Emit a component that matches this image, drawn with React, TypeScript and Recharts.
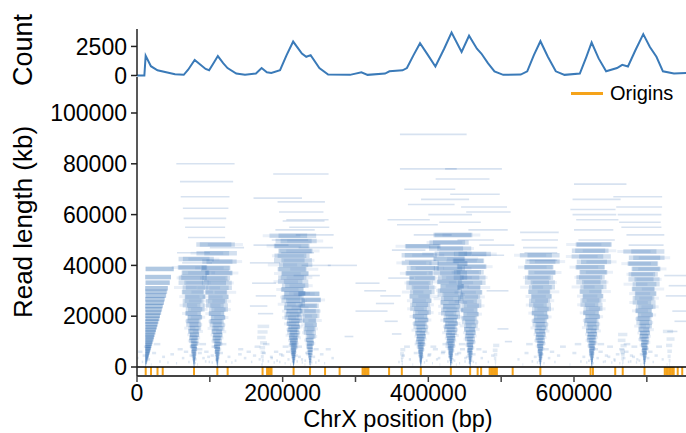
import React from 'react';
import { ComposedChart, Line, XAxis, YAxis, ReferenceLine } from 'recharts';

const FONT = '"Liberation Sans", Arial, Helvetica, sans-serif';
const BLUE = '#3a7ab8';
const READ = '#3570b6';
const ORANGE = '#f5a31a';

const X_MAX = 773000;
const xTicks = [0, 100000, 200000, 300000, 400000, 500000, 600000, 700000];
const countTicks = [0, 2500];
const lengthTicks = [0, 20000, 40000, 60000, 80000, 100000];

const countPos = [0, 10100, 11900, 19100, 28100, 40100, 52200, 64200, 70200, 79200, 94200, 99000, 105000, 111000, 118300, 124300, 136300, 148300, 163300, 171100, 178300, 184400, 196400, 205400, 214400, 226400, 232400, 238400, 250400, 262400, 292500, 308100, 316600, 340600, 346600, 364600, 370600, 379700, 388600, 399500, 409700, 421700, 431900, 445700, 455900, 466700, 472800, 481800, 490800, 502800, 526900, 535800, 544900, 553900, 564100, 575000, 587000, 608000, 617000, 624200, 633800, 644100, 659100, 666200, 674100, 684300, 695100, 704200, 713200, 722100, 737200, 754100, 773000];
const countVal = [0, 0, 1700, 800, 450, 280, 110, 60, 500, 1330, 560, 450, 1060, 1670, 1060, 640, 170, 55, 165, 640, 280, 220, 450, 1750, 2920, 1890, 1610, 1750, 640, 80, 55, 280, 55, 165, 360, 445, 640, 1750, 2780, 1750, 780, 2300, 3700, 2030, 3420, 2300, 1890, 1060, 360, 55, 80, 360, 1750, 2950, 1610, 360, 55, 165, 1610, 2840, 1470, 360, 640, 920, 780, 2170, 3560, 2450, 1610, 360, 165, 220, 220];

const origins = [11950, 19230, 28160, 35300, 78300, 110300, 124450, 172400, 178600, 180600, 182700, 184700, 215000, 237600, 258200, 278200, 309700, 311800, 313900, 315900, 317700, 346100, 363600, 389700, 430900, 457400, 467700, 472500, 484200, 486200, 488200, 490200, 492200, 494100, 515800, 553800, 622700, 626000, 656600, 666900, 696800, 724600, 726600, 728700, 730700, 732800, 734800, 736900, 742400, 748600];

// read clusters: origin position, where reads sit relative to origin, spread, depth layers
const clusterCenters = [11500, 78300, 110300, 172400, 215000, 237600, 389700, 430900, 457400, 553800, 624500, 696800, 666900, 364000, 492000, 731000];
const clusterAnchors = [0, 0.5, 0.5, 0.5, 0.5, 0.5, 0.5, 0.5, 0.5, 0.5, 0.5, 0.5, 0.5, 0.5, 0.5, 0.5];
const clusterSpreads = [0.12, 1, 1, 1, 1, 1, 1, 1, 1, 1, 1, 1, 1, 1, 1, 1];
const clusterLayers = [2, 3, 3, 1, 3, 3, 3, 3, 3, 3, 3, 3, 1, 1, 1, 1];
const clusterLengths = [
  [900, 1500, 2100, 2700, 3200, 3800, 4400, 5000, 5700, 6300, 7000, 7700, 8400, 9200, 10000, 10900, 11800, 12700, 13700, 14700, 15700, 16800, 17900, 19000, 20200, 21400, 22700, 24000, 25300, 26700, 28100, 29600, 31000, 33200, 35400, 38600],
  [700, 1300, 2000, 2700, 3500, 4300, 5200, 6100, 7100, 8100, 9200, 10300, 11500, 12700, 14000, 15300, 16700, 18100, 19600, 21100, 22700, 24300, 26000, 27700, 29500, 31300, 33200, 35100, 37100, 39200, 42500],
  [600, 1200, 1900, 2600, 3400, 4200, 5100, 6000, 7000, 8000, 9100, 10200, 11400, 12600, 13900, 15200, 16600, 18000, 19500, 21000, 22600, 24200, 25900, 27600, 29400, 31200, 33100, 35000, 37000, 39000, 41500, 44800, 48200],
  [1200, 2600, 4100, 5800, 7600, 9500, 11600, 13800, 16000],
  [500, 1100, 1700, 2300, 3000, 3700, 4400, 5200, 6000, 6800, 7700, 8600, 9500, 10500, 11500, 12500, 13600, 14700, 15800, 17000, 18200, 19400, 20700, 22000, 23300, 24700, 26100, 27500, 29000, 30500, 32000, 33600, 35200, 36800, 38500, 40200, 42000, 43800, 45700, 47600, 49600, 51700],
  [800, 1700, 2600, 3600, 4600, 5700, 6800, 8000, 9300, 10600, 12000, 13500, 15000, 16600, 18300, 20100, 22000, 24100, 26400, 28800],
  [600, 1300, 2000, 2700, 3500, 4300, 5100, 6000, 6900, 7900, 8900, 9900, 11000, 12100, 13300, 14500, 15800, 17100, 18500, 19900, 21400, 22900, 24500, 26100, 27800, 29500, 31300, 33100, 35000, 36900, 38900, 41000, 44000, 47500],
  [500, 1100, 1800, 2500, 3200, 4000, 4800, 5600, 6500, 7400, 8300, 9300, 10300, 11300, 12400, 13500, 14700, 15900, 17100, 18400, 19700, 21100, 22500, 23900, 25400, 26900, 28500, 30100, 31800, 33500, 35200, 37000, 38800, 40700, 42600, 44600, 46700, 49000, 52000],
  [700, 1400, 2200, 3000, 3800, 4700, 5600, 6600, 7600, 8700, 9800, 11000, 12200, 13500, 14800, 16200, 17700, 19200, 20800, 22400, 24100, 25800, 27600, 29400, 31300, 33200, 35200, 37300, 39500, 41800, 44500],
  [600, 1300, 2000, 2800, 3600, 4400, 5300, 6200, 7200, 8200, 9300, 10400, 11600, 12800, 14100, 15400, 16800, 18200, 19700, 21200, 22800, 24400, 26100, 27800, 29600, 31400, 33300, 35200, 37200, 39300, 41500, 44000],
  [600, 1300, 2000, 2800, 3600, 4500, 5400, 6300, 7300, 8300, 9400, 10500, 11700, 12900, 14200, 15500, 16900, 18300, 19800, 21300, 22900, 24500, 26200, 27900, 29700, 31500, 33400, 35300, 37300, 39300, 41400, 43500, 45800, 48200],
  [600, 1300, 2100, 2900, 3700, 4600, 5500, 6500, 7500, 8600, 9700, 10900, 12100, 13400, 14700, 16100, 17500, 19000, 20500, 22100, 23700, 25400, 27100, 28900, 30700, 32600, 34500, 36500, 38600, 40700, 43000, 45500],
  [800, 2000, 3300, 4800, 6500, 8400, 10500, 12800],
  [700, 1600, 2700, 3900, 5200, 6800],
  [900, 2100, 3400, 4900, 6600, 8500],
  [1000, 2500, 4200, 6200, 8500, 11000, 14000],
];
// where each read crosses its origin (fraction of its length): core reads and off-centre reads
const readAnchorPattern = [0.5, 0.4, 0.6, 0.46, 0.54, 0.36, 0.64, 0.5, 0.43, 0.57];
const wideAnchorPattern = [0.18, 0.82, 0.27, 0.73, 0.12, 0.88, 0.32, 0.68, 0.22, 0.78];

// short scattered reads near the base of the main clusters
const speckleClusters = [0, 1, 2, 3, 4, 5, 6, 7, 8, 9, 10, 11, 12];
const speckleOffsets = [-30000, -24000, -19000, -15000, -11000, -7000, -4000, -1500, 2000, 5000, 8000, 12000, 16000, 20000, 25000, 31000];
const speckleLengths = [2500, 5000, 1500, 7000, 3500, 6000, 2000, 4500, 8000, 3000, 1000, 5500, 9000, 2200, 4000, 1800];

// individual long reads
const sparseStarts = [54000, 59000, 60000, 63000, 64000, 70000, 100000, 55000, 62000, 88000, 60000, 66000, 92000,
  160000, 160000, 155000, 158000, 163000, 166000, 155000,
  187000, 193000, 195000, 200000, 209000, 218000, 190000, 222000, 198000, 226000, 215000, 185000, 205000,
  262000, 285000, 300000, 322000, 334000, 340000, 350000, 312000, 345000, 328000, 300000,
  361000, 361000, 423000, 410000, 367000, 430000, 372000, 445000, 344000, 357000, 455000, 400000, 380000, 470000, 350000, 415000, 440000, 460000, 390000, 368000, 452000,
  480000, 495000, 505000,
  526000, 528000, 530000, 535000, 532000,
  600000, 598000, 595000, 603000, 600000, 606000, 598000,
  654000, 658000, 660000, 665000, 672000, 675000, 662000,
  724000, 730000, 726000, 735000, 738000, 728000];
const sparseLengths = [80000, 73000, 67000, 62500, 58500, 51000, 47000, 45000, 41000, 38000, 36000, 55000, 34000,
  66500, 48000, 41000, 33000, 28000, 21000, 24000,
  76000, 65000, 61000, 57500, 55000, 52000, 54000, 47000, 45000, 40000, 36000, 50000, 58000,
  40000, 12000, 22000, 22000, 28000, 18000, 13000, 30000, 35000, 25000, 33000,
  91600, 78000, 78000, 74000, 70000, 68000, 64000, 63000, 58000, 56000, 54000, 60000, 52000, 48000, 46000, 57000, 50000, 44000, 66000, 42000, 61000,
  30000, 15000, 10000,
  53000, 50000, 47000, 42000, 45000,
  72000, 66000, 62000, 58000, 54000, 50000, 60000,
  67000, 63000, 60000, 55000, 52000, 48000, 57000,
  36000, 32000, 28000, 22000, 18000, 14000];

const countData = countPos.map((x, i) => ({ x, count: countVal[i] }));

type Kind = 'core' | 'wide' | 'light' | 'speck' | 'sparse';
type Seg = { x1: number; x2: number; y: number; kind: Kind };
const segs: Seg[] = [];
clusterCenters.forEach((c, ci) => {
  const layers = clusterLayers[ci];
  clusterLengths[ci].forEach((L, i) => {
    for (let k = 0; k < layers; k++) {
      const wide = k === 2;
      const pat = wide ? wideAnchorPattern : readAnchorPattern;
      const p = pat[(i + k * 5) % pat.length];
      const f = clusterAnchors[ci] + (p - 0.5) * clusterSpreads[ci];
      const s = c - f * L;
      segs.push({ x1: s, x2: s + L, y: L, kind: layers === 1 ? 'light' : wide ? 'wide' : 'core' });
    }
  });
});
speckleClusters.forEach((ci) => {
  speckleOffsets.forEach((off, j) => {
    const L = speckleLengths[(j + ci) % speckleLengths.length];
    const s = clusterCenters[ci] + off - L / 2;
    segs.push({ x1: s, x2: s + L, y: L, kind: 'speck' });
  });
});
sparseStarts.forEach((s, i) => {
  const L = sparseLengths[i];
  segs.push({ x1: s, x2: s + L, y: L, kind: 'sparse' });
});

const Y_MAX = 114173;
const Y_MIN = -3543;

const segStyle: Record<Kind, { w: number; o: number }> = {
  core: { w: 4.5, o: 0.22 },
  wide: { w: 3, o: 0.1 },
  light: { w: 3.5, o: 0.15 },
  speck: { w: 2.5, o: 0.17 },
  sparse: { w: 1.6, o: 0.2 },
};

const tickStyle = { fontSize: 23, fontFamily: FONT, fill: '#000' };

const yTitle = (text: string, baselineX: number, centerY: number, size: number) => () => (
  <text
    x={baselineX}
    y={centerY}
    transform={`rotate(-90, ${baselineX}, ${centerY})`}
    textAnchor="middle"
    fontSize={size}
    fontFamily={FONT}
    fill="#000"
  >
    {text}
  </text>
);

export default function App() {
  return (
    <div style={{ position: 'absolute', left: 0, top: 0, width: 686, height: 433, overflow: 'hidden', background: '#fff' }}>
      <div style={{ position: 'absolute', left: 0, top: 0 }}>
        <ComposedChart width={700} height={100} data={countData} margin={{ top: 29, right: 0, left: 0, bottom: 24.5 }}>
          <XAxis dataKey="x" type="number" domain={[0, X_MAX]} allowDataOverflow height={0} tick={false} tickLine={false} axisLine={{ stroke: '#000', strokeWidth: 1.5 }} />
          <XAxis xAxisId="top" orientation="top" dataKey="x" type="number" domain={[0, X_MAX]} allowDataOverflow height={0} tick={false} tickLine={false} axisLine={{ stroke: '#000', strokeWidth: 1.5 }} />
          <YAxis
            type="number"
            domain={[0, 4000]}
            ticks={countTicks}
            interval={0}
            width={137}
            tick={tickStyle}
            tickSize={6}
            tickMargin={4}
            axisLine={{ stroke: '#222', strokeWidth: 1.5 }}
            tickLine={{ stroke: '#222', strokeWidth: 1.5 }}
            label={{ content: yTitle('Count', 32, 50, 27) }}
          />
          <Line type="linear" dataKey="count" stroke={BLUE} strokeWidth={2} dot={false} isAnimationActive={false} />
        </ComposedChart>
      </div>
      <div style={{ position: 'absolute', left: 0, top: 76 }}>
        <ComposedChart width={700} height={357} data={countData} margin={{ top: 1, right: 0, left: 0, bottom: 0 }}>
          <XAxis
            dataKey="x"
            type="number"
            domain={[0, X_MAX]}
            allowDataOverflow
            ticks={xTicks}
            interval={0}
            tickFormatter={(v: number) => (v % 200000 === 0 ? String(v) : '')}
            height={57}
            tick={tickStyle}
            tickSize={6}
            tickMargin={3}
            axisLine={{ stroke: '#444', strokeWidth: 1.8 }}
            tickLine={{ stroke: '#444', strokeWidth: 1.5 }}
            label={{
              content: () => (
                <text x={398} y={351} textAnchor="middle" fontSize={23.5} fontFamily={FONT} fill="#000">
                  ChrX position (bp)
                </text>
              ),
            }}
          />
          <YAxis
            type="number"
            domain={[Y_MIN, Y_MAX]}
            allowDataOverflow
            ticks={lengthTicks}
            interval={0}
            width={137}
            tick={tickStyle}
            tickSize={6}
            tickMargin={4}
            axisLine={{ stroke: '#222', strokeWidth: 1.5 }}
            tickLine={{ stroke: '#222', strokeWidth: 1.5 }}
            label={{ content: yTitle('Read length (kb)', 32, 146, 26) }}
          />
          {segs.map((s, i) => (
            <ReferenceLine
              key={'r' + i}
              segment={[{ x: s.x1, y: s.y }, { x: s.x2, y: s.y }]}
              stroke={READ}
              strokeWidth={segStyle[s.kind].w}
              strokeOpacity={segStyle[s.kind].o}
              ifOverflow="hidden"
            />
          ))}
          {origins.map((o, i) => (
            <ReferenceLine
              key={'o' + i}
              segment={[{ x: o, y: Y_MIN }, { x: o, y: 0 }]}
              stroke={ORANGE}
              strokeWidth={2}
              ifOverflow="hidden"
            />
          ))}
          <ReferenceLine y={0} stroke="#000" strokeWidth={1.5} ifOverflow="visible" />
          <Line dataKey="count" stroke="none" dot={false} legendType="none" isAnimationActive={false} hide />
        </ComposedChart>
      </div>
      <div style={{ position: 'absolute', left: 571, top: 80, height: 26, display: 'flex', alignItems: 'center' }}>
        <div style={{ width: 32, height: 3, background: ORANGE }} />
        <span style={{ marginLeft: 7, fontSize: 20, fontFamily: FONT, color: '#000' }}>Origins</span>
      </div>
    </div>
  );
}
